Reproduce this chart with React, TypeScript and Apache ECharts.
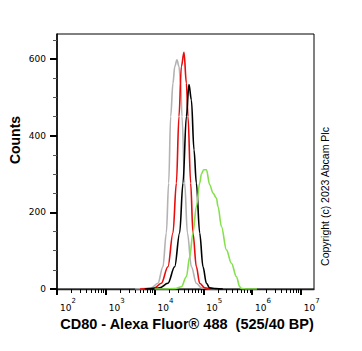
import React, { useEffect, useRef } from "react";
import * as echarts from "echarts";

// x values in decades (log10 of fluorescence), y values are counts
const grayX = [3.6, 3.8, 3.934, 4.07, 4.172, 4.242, 4.29, 4.331, 4.378, 4.415, 4.46, 4.501, 4.536, 4.563, 4.618, 4.674, 4.756, 4.858, 4.961, 5.1, 5.3];
const grayY = [0, 1, 3, 15, 58, 146, 276, 450, 537, 580, 598, 580, 537, 450, 276, 146, 58, 15, 3, 1, 0];

const redX = [3.7, 3.9, 4.002, 4.14, 4.275, 4.378, 4.448, 4.501, 4.55, 4.604, 4.653, 4.686, 4.741, 4.788, 4.858, 4.926, 5.029, 5.15, 5.3];
const redY = [0, 1, 3, 15, 58, 146, 276, 450, 580, 617, 537, 450, 276, 146, 58, 15, 3, 1, 0];

const blackX = [3.8, 4.0, 4.105, 4.275, 4.413, 4.515, 4.583, 4.653, 4.706, 4.756, 4.809, 4.858, 4.926, 4.994, 5.064, 5.131, 5.25, 5.4];
const blackY = [0, 1, 3, 15, 58, 146, 276, 450, 533, 493, 363, 276, 146, 58, 15, 3, 1, 0];

const greenX = [4.0, 4.207, 4.413, 4.55, 4.653, 4.721, 4.788, 4.858, 4.926, 4.961, 5.008, 5.064, 5.131, 5.199, 5.269, 5.302, 5.372, 5.474, 5.577, 5.68, 5.747, 5.782, 5.9, 6.1];
const greenY = [0, 0, 1, 6, 32, 84, 146, 215, 276, 300, 311, 311, 272, 250, 237, 215, 163, 102, 67, 32, 6, 1, 0, 0];

const xDecades = [2, 3, 4, 5, 6, 7];
const xMinorMultipliers = [2, 3, 4, 5, 6, 7, 8, 9];
const yMajorTicks = [0, 200, 400, 600];
const yMinorTicks = [50, 100, 150, 250, 300, 350, 450, 500, 550, 650];

const X_MIN = 2;
const X_MAX = 7.27;
const Y_MAX = 665;

const xTitle = "CD80 - Alexa Fluor\u00AE 488  (525/40 BP)";
const yTitle = "Counts";
const copyright = "Copyright (c) 2023 Abcam Plc";

const zip = (xs: number[], ys: number[]) => xs.map((x, i) => [x, ys[i]]);

export default function App() {
  const ref = useRef<HTMLDivElement>(null);
  useEffect(() => {
    if (!ref.current) return;
    const chart = echarts.init(ref.current, null, { renderer: "svg" });
    const xMinor: number[] = [];
    for (let d = 2; d < 7; d++) {
      for (const m of xMinorMultipliers) xMinor.push(d + Math.log10(m));
    }
    const lineSeries = (name: string, xs: number[], ys: number[], color: string) => ({
      type: "line",
      name,
      data: zip(xs, ys),
      xAxisIndex: 0,
      yAxisIndex: 0,
      showSymbol: false,
      symbol: "none",
      smooth: 0.35,
      smoothMonotone: "x",
      lineStyle: { color, width: 1.6 },
    });
    chart.setOption({
      animation: false,
      backgroundColor: "#ffffff",
      grid: {
        left: 57,
        top: 34,
        width: 257,
        height: 255,
        show: true,
        borderColor: "#000",
        borderWidth: 1,
        backgroundColor: "transparent",
      },
      xAxis: [
        {
          type: "value",
          min: X_MIN,
          max: X_MAX,
          position: "bottom",
          axisLine: { show: true, onZero: false, lineStyle: { color: "#222", width: 1.4 } },
          axisTick: {
            show: true,
            customValues: xDecades,
            length: 6,
            lineStyle: { color: "#000", width: 2 },
          },
          splitLine: { show: false },
          axisLabel: {
            customValues: xDecades,
            margin: 14,
            align: "left",
            fontSize: 9,
            fontFamily: "DejaVu Sans",
            color: "#000",
            padding: [0, 0, 0, 3],
            formatter: () => "10",
          },
        },
        {
          type: "value",
          min: X_MIN,
          max: X_MAX,
          position: "bottom",
          axisLine: { show: false, onZero: false },
          axisTick: {
            show: true,
            customValues: xMinor,
            length: 4,
            lineStyle: { color: "#000", width: 1 },
          },
          axisLabel: {
            customValues: xDecades,
            margin: 8,
            align: "left",
            fontSize: 7,
            fontFamily: "DejaVu Sans",
            color: "#000",
            padding: [0, 0, 0, 14.5],
            formatter: (v: number) => String(Math.round(v)),
          },
          splitLine: { show: false },
        },
      ],
      yAxis: [
        {
          type: "value",
          min: 0,
          max: Y_MAX,
          position: "left",
          axisLine: { show: true, onZero: false, lineStyle: { color: "#000", width: 1.5 } },
          axisTick: {
            show: true,
            customValues: yMajorTicks,
            length: 7,
            lineStyle: { color: "#000", width: 2 },
          },
          splitLine: { show: false },
          axisLabel: {
            customValues: yMajorTicks,
            margin: 11,
            fontSize: 9,
            fontFamily: "DejaVu Sans",
            color: "#000",
          },
        },
        {
          type: "value",
          min: 0,
          max: Y_MAX,
          position: "left",
          axisLine: { show: false, onZero: false },
          axisTick: {
            show: true,
            customValues: yMinorTicks,
            length: 4,
            lineStyle: { color: "#555", width: 1 },
          },
          axisLabel: { show: false },
          splitLine: { show: false },
        },
      ],
      series: [
        lineSeries("gray", grayX, grayY, "#b3b3b3"),
        lineSeries("red", redX, redY, "#e80c0c"),
        lineSeries("black", blackX, blackY, "#000000"),
        lineSeries("green", greenX, greenY, "#84e04c"),
      ],
      graphic: [
        {
          type: "text",
          x: 15,
          y: 140,
          rotation: Math.PI / 2,
          style: {
            text: yTitle,
            font: "bold 14px 'Liberation Sans', Arial, sans-serif",
            fill: "#000",
            align: "center",
            verticalAlign: "middle",
          },
        },
        {
          type: "text",
          x: 187,
          y: 323.5,
          style: {
            text: xTitle,
            font: "bold 14.5px 'Liberation Sans', Arial, sans-serif",
            fill: "#000",
            align: "center",
            verticalAlign: "middle",
          },
        },
        {
          type: "text",
          x: 325,
          y: 196.5,
          rotation: Math.PI / 2,
          style: {
            text: copyright,
            font: "10.5px 'Liberation Sans', Arial, sans-serif",
            fill: "#000",
            align: "center",
            verticalAlign: "middle",
          },
        },
      ],
    });
    return () => chart.dispose();
  }, []);
  return (
    <div
      ref={ref}
      style={{ position: "fixed", left: 0, top: 0, width: 362, height: 351, background: "#fff" }}
    />
  );
}
